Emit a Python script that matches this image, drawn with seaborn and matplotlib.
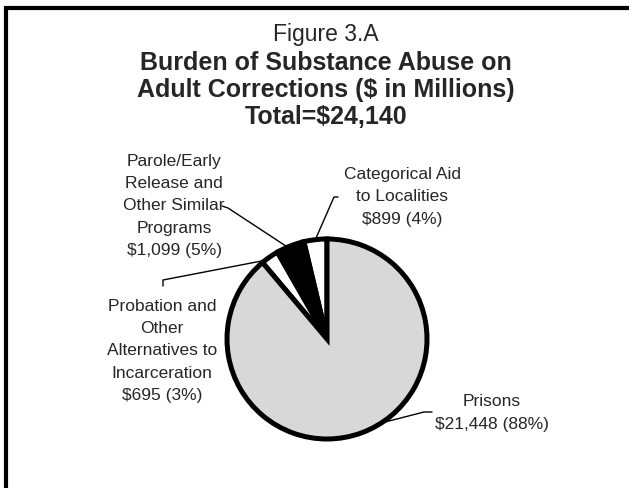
import numpy as np
import matplotlib
matplotlib.use('Agg')
import matplotlib.pyplot as plt
import seaborn as sns
from matplotlib.patches import Rectangle

# data ($ in millions)
categories = ['Categorical Aid\nto Localities',
              'Parole/Early\nRelease and\nOther Similar\nPrograms',
              'Probation and\nOther\nAlternatives to\nIncarceration',
              'Prisons']
values = [899, 1099, 695, 21448]
percents = [4, 5, 3, 88]
total = 24140
colors = ['white', 'black', 'white', '#d8d8d8']

W, H = 629, 489

sns.set_style('white')
plt.rcParams['font.family'] = ['Liberation Sans', 'DejaVu Sans']

fig = plt.figure(figsize=(W / 100, H / 100), dpi=100)
ax = fig.add_axes([0, 0, 1, 1])


def py(y):
    # pixel row (from top) -> data y
    return H - y


cx, cy, r = 327, py(340), 100
wedges, _ = ax.pie(values, colors=colors, startangle=90, counterclock=True,
                   center=(cx, cy), radius=r, frame=True,
                   wedgeprops=dict(edgecolor='black', linewidth=3.6))
ax.set_xlim(0, W)
ax.set_ylim(0, H)
ax.axis('off')

# frame of the scanned page
ax.add_patch(Rectangle((6, -30), W + 40, py(9) + 30, fill=False,
                       edgecolor='black', linewidth=3, clip_on=False))

# titles
tx = 326
ax.text(tx, py(35), 'Figure 3.A', ha='center', va='center', fontsize=16.5)
ax.text(tx, py(63), 'Burden of Substance Abuse on', ha='center', va='center',
        fontsize=18, fontweight='bold')
ax.text(tx, py(90), 'Adult Corrections ($ in Millions)', ha='center', va='center',
        fontsize=18, fontweight='bold')
ax.text(tx, py(117), f'Total=${total:,}', ha='center', va='center',
        fontsize=18, fontweight='bold')

# label layout: text centre (px), where the leader starts (px), position in wedge
label_pos = [(402, 197), (174, 206), (162, 351), (492, 413)]
leader_start = [[(338, 198), (334, 198)],
                [(222, 207), (228, 209)],
                [(163, 287), (163, 281)],
                [(432, 413), (424, 413)]]
wedge_frac = [0.5, 0.6, 0.8, 0.54]

for i, w in enumerate(wedges):
    txt = f'{categories[i]}\n${values[i]:,} ({percents[i]}%)'
    x, y = label_pos[i]
    ax.text(x, py(y), txt, ha='center', va='center', fontsize=12.5,
            linespacing=1.6)
    ang = np.deg2rad(w.theta1 + wedge_frac[i] * (w.theta2 - w.theta1))
    ex, ey = cx + r * np.cos(ang), cy + r * np.sin(ang)
    pts = leader_start[i]
    xs = [p[0] for p in pts] + [ex]
    ys = [py(p[1]) for p in pts] + [ey]
    ax.plot(xs, ys, color='black', linewidth=1)

fig.savefig('out.png', dpi=100)
